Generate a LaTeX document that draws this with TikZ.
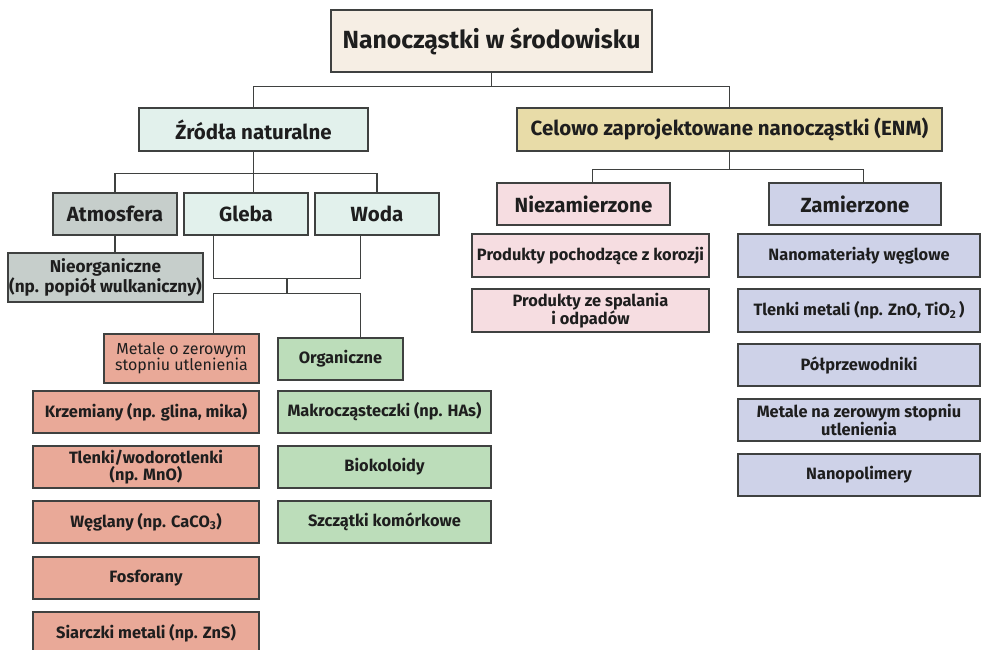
\documentclass[tikz,border=0pt]{standalone}
\usepackage{fontspec}
\setmainfont{Fira Sans}
\usetikzlibrary{calc}

\definecolor{linec}{HTML}{3F4140}
\definecolor{textc}{HTML}{1E1E1E}
\definecolor{cTitle}{HTML}{F6EEE4}
\definecolor{cMint}{HTML}{E2F1EC}
\definecolor{cKhaki}{HTML}{E8DCA8}
\definecolor{cGray}{HTML}{C6CECB}
\definecolor{cSalmon}{HTML}{E9A998}
\definecolor{cGreen}{HTML}{BCDDBA}
\definecolor{cPink}{HTML}{F6DDE1}
\definecolor{cLav}{HTML}{CED2E8}

% box from corner (x1,y1) to corner (x2,y2), pixel-like units
\newcommand\boxat[7]{%
  \node[#6, minimum width={(#4)-(#2)}, minimum height={(#5)-(#3)}]
    (#1) at ({((#2)+(#4))/2},{((#3)+(#5))/2}) {#7};}

\tikzset{
  base/.style={draw=linec, line width=1.4pt, inner sep=0pt, align=center, text=textc},
  huge/.style={base, font=\fontsize{24.8}{28}\selectfont\bfseries},
  big/.style={base, font=\fontsize{20.5}{24}\selectfont\bfseries},
  mid/.style={base, font=\fontsize{17.2}{17.5}\selectfont\bfseries},
  small/.style={base, font=\fontsize{16.4}{16.5}\selectfont\bfseries},
  smallreg/.style={base, font=\fontsize{16}{16}\selectfont},
  conn/.style={draw=linec, line width=1.4pt},
}

\begin{document}
\begin{tikzpicture}[x=1pt,y=-1pt]
\useasboundingbox (0,0) rectangle (981,649);

% top levels
\boxat{title}{331}{10}{652}{72}{huge, fill=cTitle}{Nanocząstki w środowisku}
\boxat{zr}{139}{108}{368}{151}{big, fill=cMint}{Źródła naturalne}
\boxat{enm}{517}{108}{942}{151}{big, fill=cKhaki}{Celowo zaprojektowane nanocząstki (ENM)}

% natural sources
\boxat{atm}{53}{193}{177}{235}{big, fill=cGray}{Atmosfera}
\boxat{gleba}{184}{193}{308}{235}{big, fill=cMint}{Gleba}
\boxat{woda}{315}{193}{439}{235}{big, fill=cMint}{Woda}
\boxat{nieorg}{8}{253}{203}{302}{mid, fill=cGray}{Nieorganiczne\\(np. popiół wulkaniczny)}

\boxat{metale}{104}{334}{259}{383}{smallreg, fill=cSalmon}{Metale o zerowym\\stopniu utlenienia}
\boxat{org}{278}{338}{403}{380}{small, fill=cGreen}{Organiczne}

\boxat{krz}{33}{391}{259}{433}{small, fill=cSalmon}{Krzemiany (np. glina, mika)}
\boxat{tlw}{33}{446}{259}{488}{small, fill=cSalmon}{Tlenki/wodorotlenki\\(np. MnO)}
\boxat{wegl}{33}{501}{259}{543}{small, fill=cSalmon}{Węglany (np. CaCO\textsubscript{3})}
\boxat{fosf}{33}{557}{259}{599}{small, fill=cSalmon}{Fosforany}
\boxat{siar}{33}{612}{259}{654}{small, fill=cSalmon}{Siarczki metali (np. ZnS)}

\boxat{makro}{278}{391}{491}{433}{small, fill=cGreen}{Makrocząsteczki (np. HAs)}
\boxat{bio}{278}{446}{491}{488}{small, fill=cGreen}{Biokoloidy}
\boxat{szcz}{278}{501}{491}{543}{small, fill=cGreen}{Szczątki komórkowe}

% engineered nanoparticles
\boxat{niez}{497}{183}{670}{225}{big, fill=cPink}{Niezamierzone}
\boxat{zam}{769}{183}{941}{225}{big, fill=cLav}{Zamierzone}

\boxat{kor}{472}{234}{709}{277}{small, fill=cPink}{Produkty pochodzące z korozji}
\boxat{spal}{472}{289}{709}{332}{small, fill=cPink}{Produkty ze spalania\\i odpadów}

\boxat{nmw}{738}{234}{980}{277}{small, fill=cLav}{Nanomateriały węglowe}
\boxat{tlm}{738}{289}{980}{332}{small, fill=cLav}{Tlenki metali (np. ZnO, TiO\textsubscript{2}\,)}
\boxat{polp}{738}{344}{980}{386}{small, fill=cLav}{Półprzewodniki}
\boxat{mzs}{738}{399}{980}{441}{small, fill=cLav}{Metale na zerowym stopniu\\utlenienia}
\boxat{npol}{738}{454}{980}{496}{small, fill=cLav}{Nanopolimery}

% connectors
\draw[conn] (title.south) |- ($(zr.north)+(0,-21)$) -- (zr.north);
\draw[conn] (title.south) |- ($(enm.north)+(0,-21)$) -- (enm.north);

\draw[conn] (zr.south) -- (zr.south |- gleba.north);
\draw[conn] (atm.north) |- ($(zr.south)+(0,22)$) -| (woda.north);
\draw[conn] (atm.south) -- (atm.south |- nieorg.north);

\coordinate (gs) at ($(gleba.south west)+(30,0)$);
\coordinate (ws) at ($(woda.south west)+(46,0)$);
\coordinate (mrg) at ($(gs)!0.5!(ws)+(0,43)$);
\coordinate (spl) at ($(mrg)+(0,15)$);
\draw[conn] (gs) |- (mrg) -| (ws);
\draw[conn] (mrg) -- (spl);
\draw[conn] (metale.north -| gs) |- (spl) -| (org.north -| ws);

\coordinate (nz) at ($(niez.north west)+(96,0)$);
\coordinate (zm) at ($(zam.north west)+(95,0)$);
\draw[conn] (enm.south) -- ($(enm.south)+(0,18)$);
\draw[conn] (nz) |- ($(enm.south)+(0,18)$) -| (zm);
\end{tikzpicture}
\end{document}
